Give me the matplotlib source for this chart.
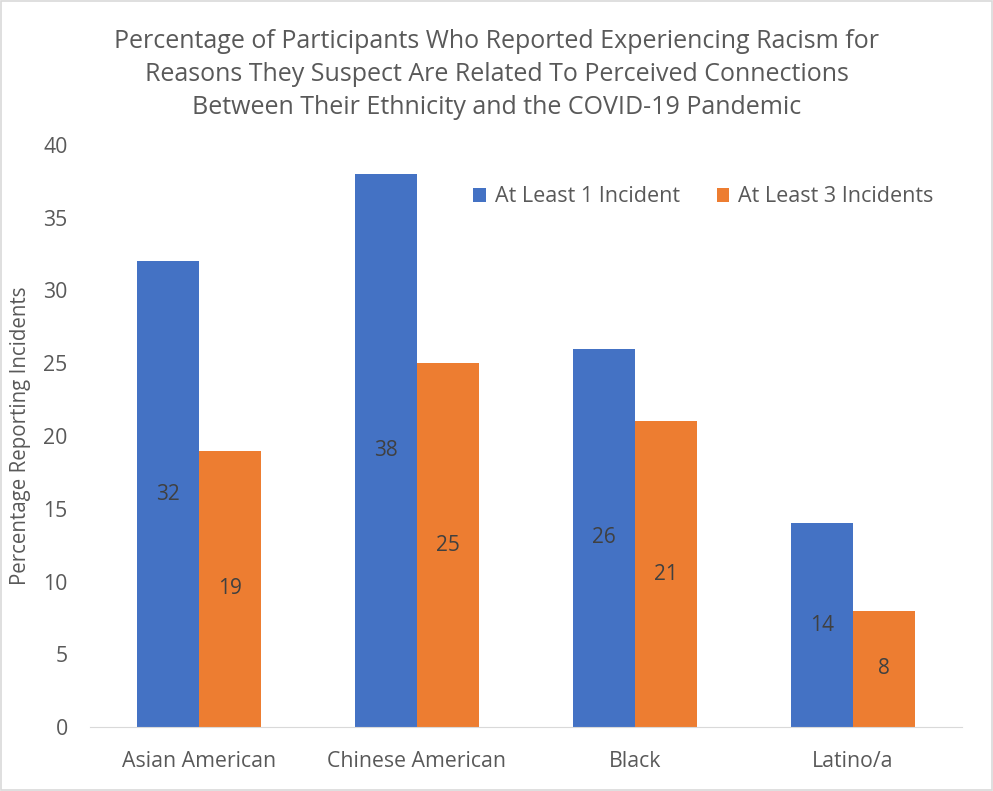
import matplotlib.pyplot as plt
import numpy as np

plt.rcParams['font.family'] = ['Open Sans', 'DejaVu Sans']

categorias = ['Asian American', 'Chinese American', 'Black', 'Latino/a']
al_menos_1 = [32, 38, 26, 14]
al_menos_3 = [19, 25, 21, 8]
series = ['At Least 1 Incident', 'At Least 3 Incidents']

azul = '#4472C4'
naranja = '#ED7D31'
gris = '#595959'

fig = plt.figure(figsize=(9.93, 7.91), dpi=100)
ax = fig.add_axes([0.0906, 0.0809, 0.878, 0.7358])

indice = np.arange(len(categorias))
ancho = 0.285

b1 = ax.bar(indice - ancho / 2, al_menos_1, ancho, color=azul, label=series[0])
b2 = ax.bar(indice + ancho / 2, al_menos_3, ancho, color=naranja, label=series[1])

## etiquetas en el centro de cada barra
for barras in (b1, b2):
    for b in barras:
        h = b.get_height()
        ax.text(b.get_x() + b.get_width() / 2, h / 2, '%d' % h,
                ha='center', va='center', fontsize=15, color='#404040')

ax.set_xlim(-0.5, len(categorias) - 0.5)
ax.set_ylim(0, 40)
ax.set_yticks(range(0, 41, 5))
ax.set_xticks(indice, categorias)
ax.tick_params(axis='both', length=0, labelsize=15.3, labelcolor=gris)
ax.tick_params(axis='y', pad=16)
ax.tick_params(axis='x', pad=17)

for s in ['top', 'right', 'left']:
    ax.spines[s].set_visible(False)
ax.spines['bottom'].set_color('#D9D9D9')

ax.set_ylabel('Percentage Reporting Incidents', fontsize=14.8, color=gris)
ax.yaxis.set_label_coords(-0.068, 0.5)

fig.text(0.5, 0.9064,
         'Percentage of Participants Who Reported Experiencing Racism for\n'
         'Reasons They Suspect Are Related To Perceived Connections\n'
         'Between Their Ethnicity and the COVID-19 Pandemic',
         ha='center', va='center', fontsize=18, color=gris, linespacing=1.42)

ax.legend(loc='center right', bbox_to_anchor=(0.94, 0.751), bbox_transform=fig.transFigure,
          ncol=2, frameon=False, fontsize=15.5, labelcolor=gris, borderpad=0, borderaxespad=0,
          handlelength=0.6, handleheight=0.6, columnspacing=1.7, handletextpad=0.4)

## borde exterior gris
fig.patches.append(plt.Rectangle((0.001, 0.001), 0.998, 0.998, transform=fig.transFigure,
                                 fill=False, edgecolor='#D9D9D9', linewidth=1.2))

fig.savefig('out.png', dpi=100)
